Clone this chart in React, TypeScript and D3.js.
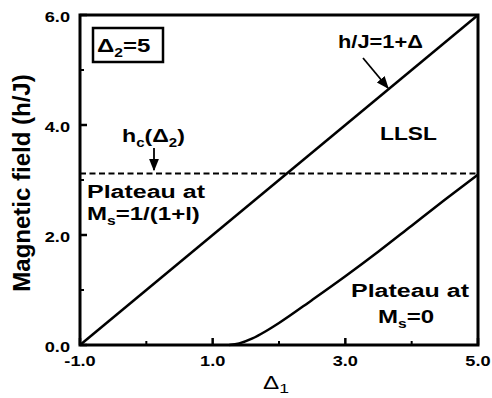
import React from 'react';
import * as d3 from 'd3';

// axes
const xDomain = [-1, 5];
const yDomain = [0, 6];
const xMajorTicks = [-1, 1, 3, 5];
const xMinorTicks = [0, 2, 4];
const yMajorTicks = [0, 2, 4, 6];
const yMinorTicks = [1, 3, 5];

// h/J = 1 + delta
const upperDelta = [-1, 5];
const upperField = [0, 6];

// lower critical field (plateau at Ms=0)
const lowerDelta = [1.25, 1.4, 1.6, 1.8, 2.0, 2.5, 3.0, 3.5, 4.0, 4.5, 5.0];
const lowerField = [0, 0.03, 0.12, 0.25, 0.4, 0.82, 1.25, 1.7, 2.17, 2.64, 3.1];

// hc(delta2) dashed line
const hc = 3.12;

const FONT = '"Liberation Sans", Arial, Helvetica, sans-serif';
const SX = 1.3; // the reference type is set wide

const fmt = (v: number) => d3.format('.1f')(v).replace('\u2212', '-');

const Txt = ({ x, y, size = 18.5, anchor = 'start', weight = 'bold', sx = SX, children }: any) => (
  <text
    transform={`translate(${x},${y}) scale(${sx},1)`}
    fontFamily={FONT}
    fontSize={size}
    fontWeight={weight}
    textAnchor={anchor}
    fill="#000"
  >
    {children}
  </text>
);

// subscript tspan; the text after it goes in a tspan with dy={-dy}
const sub = (s: string, dy = 5, size = 12) => (
  <tspan fontSize={size} dy={dy}>{s}</tspan>
);

export default function App() {
  const width = 492;
  const height = 398;
  const margin = { top: 15, right: 14, bottom: 53, left: 80 };

  const x = d3.scaleLinear().domain(xDomain).range([margin.left, width - margin.right]);
  const y = d3.scaleLinear().domain(yDomain).range([height - margin.bottom, margin.top]);

  const line = d3
    .line<[number, number]>()
    .x(d => x(d[0]))
    .y(d => y(d[1]));
  const curve = d3
    .line<[number, number]>()
    .x(d => x(d[0]))
    .y(d => y(d[1]))
    .curve(d3.curveMonotoneX);

  const upper = upperDelta.map((d, i) => [d, upperField[i]] as [number, number]);
  const lower = lowerDelta.map((d, i) => [d, lowerField[i]] as [number, number]);

  const [x0, x1] = x.range();
  const [y0, y1] = y.range(); // y0 bottom, y1 top

  return (
    <svg
      width={width}
      height={height}
      style={{ position: 'absolute', left: 0, top: 0, background: '#fff' }}
    >
      <defs>
        <marker id="head" viewBox="0 0 10 10" refX="9" refY="5" markerWidth="7" markerHeight="7" orient="auto">
          <path d="M0,1 L10,5 L0,9 z" fill="#000" />
        </marker>
      </defs>

      {/* data lines */}
      <line x1={x0} x2={x1} y1={y(hc)} y2={y(hc)} stroke="#000" strokeWidth={2} strokeDasharray="6,3.5" />
      <path d={line(upper) || ''} fill="none" stroke="#000" strokeWidth={2.5} />
      <path d={curve(lower) || ''} fill="none" stroke="#000" strokeWidth={2.5} />

      {/* frame */}
      <rect x={x0} y={y1} width={x1 - x0} height={y0 - y1} fill="none" stroke="#000" strokeWidth={3} />

      {/* ticks, inward */}
      {xMajorTicks.map(t => (
        <line key={'xM' + t} x1={x(t)} x2={x(t)} y1={y0} y2={y0 - 7} stroke="#000" strokeWidth={2.5} />
      ))}
      {xMinorTicks.map(t => (
        <line key={'xm' + t} x1={x(t)} x2={x(t)} y1={y0} y2={y0 - 4} stroke="#000" strokeWidth={2} />
      ))}
      {yMajorTicks.map(t => (
        <line key={'yM' + t} x1={x0} x2={x0 + 7} y1={y(t)} y2={y(t)} stroke="#000" strokeWidth={2.5} />
      ))}
      {yMinorTicks.map(t => (
        <line key={'ym' + t} x1={x0} x2={x0 + 4} y1={y(t)} y2={y(t)} stroke="#000" strokeWidth={2} />
      ))}

      {/* tick labels */}
      {xMajorTicks.map(t => (
        <Txt key={'xl' + t} x={x(t)} y={y0 + 21} size={14} anchor="middle">
          {fmt(t)}
        </Txt>
      ))}
      {yMajorTicks.map(t => (
        <Txt key={'yl' + t} x={x0 - 10} y={y(t) + 7} size={14} anchor="end">
          {fmt(t)}
        </Txt>
      ))}

      {/* axis titles */}
      <text
        transform={`translate(30,${(y0 + y1) / 2 + 3}) rotate(-90)`}
        fontFamily={FONT}
        fontSize={24}
        fontWeight="bold"
        textAnchor="middle"
      >
        Magnetic field (h/J)
      </text>
      <Txt x={263} y={389} size={18} weight="normal" sx={1.35}>
        Δ{sub('1', 4, 13)}
      </Txt>

      {/* annotations */}
      <rect x={93} y={28} width={70} height={34} fill="none" stroke="#000" strokeWidth={2.5} />
      <Txt x={97} y={52}>
        Δ{sub('2')}<tspan dy={-5}>=5</tspan>
      </Txt>

      <Txt x={338} y={48} sx={1.18}>h/J=1+Δ</Txt>
      <line x1={363} y1={58} x2={388} y2={88} stroke="#000" strokeWidth={1.8} markerEnd="url(#head)" />

      <Txt x={380} y={140} sx={1.23}>LLSL</Txt>

      <Txt x={122} y={142} sx={1.25}>
        h{sub('c')}<tspan dy={-5}>(Δ</tspan>{sub('2')}<tspan dy={-5}>)</tspan>
      </Txt>
      <line x1={154} y1={148} x2={154} y2={170} stroke="#000" strokeWidth={1.8} markerEnd="url(#head)" />

      <Txt x={87} y={198} sx={1.35}>Plateau at</Txt>
      <Txt x={87} y={220} sx={1.3}>
        M{sub('s')}<tspan dy={-5}>=1/(1+l)</tspan>
      </Txt>

      <Txt x={351} y={297} sx={1.35}>Plateau at</Txt>
      <Txt x={378} y={323} sx={1.3}>
        M{sub('s')}<tspan dy={-5}>=0</tspan>
      </Txt>
    </svg>
  );
}
